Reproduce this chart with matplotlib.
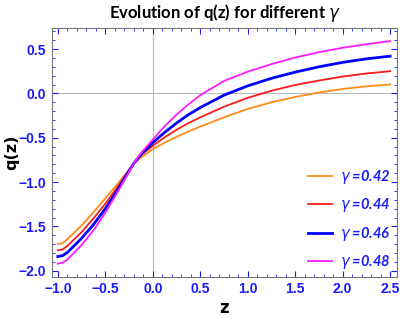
import matplotlib
matplotlib.use("Agg")
import matplotlib.pyplot as plt
from matplotlib.ticker import MultipleLocator

# Data
z = [-1.0, -0.95, -0.9, -0.75, -0.625, -0.5, -0.375, -0.25, -0.2, -0.125, 0.0,
     0.125, 0.25, 0.375, 0.5, 0.75, 1.0, 1.25, 1.5, 1.75, 2.0, 2.25, 2.5]
gammas = [0.42, 0.44, 0.46, 0.48]
q_042 = [-1.70, -1.69, -1.645, -1.49, -1.34, -1.185, -1.025, -0.86, -0.79, -0.725, -0.63,
         -0.555, -0.49, -0.43, -0.375, -0.27, -0.175, -0.10, -0.04, 0.01, 0.05, 0.08, 0.10]
q_044 = [-1.77, -1.76, -1.72, -1.565, -1.41, -1.245, -1.06, -0.865, -0.79, -0.70, -0.59,
         -0.495, -0.41, -0.335, -0.27, -0.15, -0.05, 0.03, 0.095, 0.145, 0.19, 0.225, 0.25]
q_046 = [-1.84, -1.83, -1.795, -1.635, -1.48, -1.30, -1.095, -0.875, -0.79, -0.69, -0.555,
         -0.44, -0.335, -0.24, -0.16, -0.02, 0.085, 0.17, 0.24, 0.30, 0.35, 0.39, 0.42]
q_048 = [-1.92, -1.91, -1.875, -1.71, -1.545, -1.345, -1.12, -0.885, -0.79, -0.675, -0.52,
         -0.37, -0.24, -0.125, -0.02, 0.14, 0.245, 0.33, 0.405, 0.465, 0.515, 0.555, 0.59]
series = [q_042, q_044, q_046, q_048]
colors = ["#FF8C1A", "#FF1A1A", "#0000FF", "#FF1AFF"]
widths = [1.3, 1.3, 2.0, 1.3]

tick_blue = "#1a1aff"

fig = plt.figure(figsize=(4.15, 3.19), dpi=100)
ax = fig.add_axes([0.125, 0.132, 0.832, 0.78])

ax.axhline(0, color="#bbbbbb", lw=0.8, zorder=0)
ax.axvline(0, color="#bbbbbb", lw=0.8, zorder=0)

for g, q, c, w in zip(gammas, series, colors, widths):
    ax.plot(z, q, color=c, lw=w, label=f"$\\gamma$ ={g:.2f}")

ax.set_xlim(-1.063, 2.574)
ax.set_ylim(-2.07, 0.737)
ax.xaxis.set_major_locator(MultipleLocator(0.5))
ax.xaxis.set_minor_locator(MultipleLocator(0.1))
ax.yaxis.set_major_locator(MultipleLocator(0.5))
ax.yaxis.set_minor_locator(MultipleLocator(0.1))
ax.tick_params(which="both", direction="in", top=True, right=True, color=tick_blue,
               labelcolor=tick_blue, labelsize=10, pad=4)
ax.tick_params(which="major", length=4, width=0.8)
ax.tick_params(which="minor", length=2, width=0.6)
for lab in ax.get_xticklabels() + ax.get_yticklabels():
    lab.set_fontweight("bold")
    lab.set_family("Liberation Sans")
for s in ax.spines.values():
    s.set_color("#777777")

ax.set_xlabel("z", fontsize=12, fontweight="bold", labelpad=2)
ax.set_ylabel("q(z)", fontsize=11.5, fontweight="bold")
ax.yaxis.set_label_coords(-0.095, 0.5)
ax.set_title("Evolution of q(z) for different $\\gamma$", fontsize=12, fontweight="bold",
             family=["Lato", "DejaVu Sans"], pad=7)

leg = ax.legend(loc="lower right", bbox_to_anchor=(1.02, -0.03), frameon=False,
                handlelength=1.6, handletextpad=0.6, labelspacing=0.72,
                prop={"family": ["Lato", "DejaVu Sans"], "size": 10.5,
                      "weight": "bold", "style": "italic"})
for t in leg.get_texts():
    t.set_color(tick_blue)

fig.savefig("out.png", dpi=100)
